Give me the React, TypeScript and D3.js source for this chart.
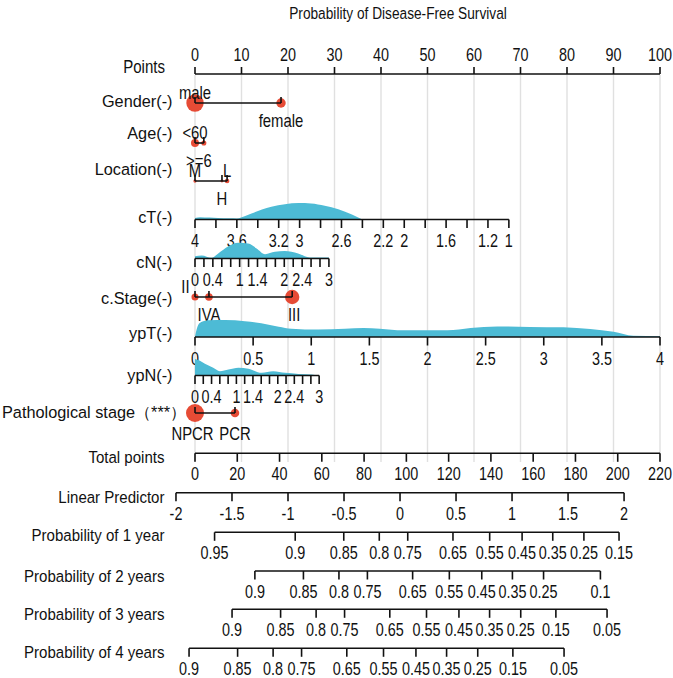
import React from 'react';
import * as d3 from 'd3';

// ---------- data ----------
const pointTicks = [0, 10, 20, 30, 40, 50, 60, 70, 80, 90, 100];

// categorical predictors: levels, points, group size (dot area)
const genderLevels = ['male', 'female'];
const genderPoints = [0, 18.5];
const genderSize = [140, 41];

const ageLevels = ['<60', '>=6'];
const agePoints = [0, 1.9];
const ageSize = [30, 12];

const locationLevels = ['M', 'H', 'L'];
const locationPoints = [0, 5.8, 6.9];
const locationSize = [5, 4, 10];

const stageLevels = ['II', 'IVA', 'III'];
const stagePoints = [0, 3.0, 20.9];
const stageSize = [23, 27, 96];

const pathLevels = ['NPCR', 'PCR'];
const pathPoints = [0, 8.6];
const pathSize = [150, 34];

// continuous predictors: value range, points at the ends, ticks, labels, density
const cTRange = [4, 1];
const cTPoints = [0, 67.5];
const cTTicks = [4, 3.8, 3.6, 3.4, 3.2, 3, 2.8, 2.6, 2.4, 2.2, 2, 1.8, 1.6, 1.4, 1.2, 1];
const cTLabels = [4, 3.6, 3.2, 3, 2.6, 2.2, 2, 1.6, 1.2, 1];
const cTDensity = [
  [4, 0.09], [3.95, 0.13], [3.86, 0.11], [3.78, 0.09], [3.67, 0.07], [3.6, 0.06],
  [3.52, 0.2], [3.46, 0.33], [3.36, 0.56], [3.27, 0.71], [3.14, 0.85], [3.01, 0.91],
  [2.89, 0.89], [2.76, 0.76], [2.63, 0.57], [2.5, 0.28], [2.44, 0.11], [2.4, 0],
];

const cNRange = [0, 3];
const cNPoints = [0, 28.8];
const cNTicks = [0, 0.2, 0.4, 0.6, 0.8, 1, 1.2, 1.4, 1.6, 1.8, 2, 2.2, 2.4, 2.6, 2.8, 3];
const cNLabels = [0, 0.4, 1, 1.4, 2, 2.4, 3];
const cNDensity = [
  [0, 0.13], [0.15, 0.17], [0.37, 0.04], [0.52, 0.28], [0.75, 0.68], [0.97, 0.87],
  [1.19, 0.83], [1.38, 0.56], [1.57, 0.24], [1.79, 0.37], [2.01, 0.41], [2.31, 0.28],
  [2.57, 0.06], [2.8, 0.05], [3, 0.05],
];

const ypTRange = [0, 4];
const ypTPoints = [0, 100];
const ypTTicks = [0, 0.5, 1, 1.5, 2, 2.5, 3, 3.5, 4];
const ypTLabels = ypTTicks;
const ypTDensity = [
  [0, 0.03], [0.015, 0.45], [0.04, 0.78], [0.115, 0.93], [0.26, 0.94], [0.43, 0.88],
  [0.57, 0.76], [0.72, 0.57], [0.83, 0.46], [1.06, 0.41], [1.29, 0.46], [1.45, 0.5],
  [1.59, 0.46], [1.79, 0.37], [2.17, 0.37], [2.37, 0.5], [2.6, 0.59], [2.88, 0.56],
  [3.17, 0.54], [3.4, 0.44], [3.6, 0.29], [3.77, 0.07], [4, 0.04],
];

const ypNRange = [0, 3];
const ypNPoints = [0, 26.7];
const ypNTicks = cNTicks;
const ypNLabels = [0, 0.4, 1, 1.4, 2, 2.4, 3];
const ypNDensity = [
  [0, 0.92], [0.08, 0.86], [0.24, 0.65], [0.44, 0.43], [0.6, 0.24], [0.81, 0.33],
  [1.05, 0.43], [1.29, 0.37], [1.61, 0.15], [1.89, 0.24], [2.18, 0.15], [2.5, 0.09],
  [2.82, 0.06], [2.98, 0],
];

// total points, linear predictor and survival probabilities
const totalTicks = [0, 20, 40, 60, 80, 100, 120, 140, 160, 180, 200, 220];
const lpTicks = [-2, -1.5, -1, -0.5, 0, 0.5, 1, 1.5, 2];
const lpTotalPoints = [-9, 203]; // total points at LP = -2 and LP = 2
const surv1Ticks = [0.95, 0.9, 0.85, 0.8, 0.75, 0.65, 0.55, 0.45, 0.35, 0.25, 0.15];
const surv2Ticks = [0.9, 0.85, 0.8, 0.75, 0.65, 0.55, 0.45, 0.35, 0.25, 0.1];
const surv3Ticks = [0.9, 0.85, 0.8, 0.75, 0.65, 0.55, 0.45, 0.35, 0.25, 0.15, 0.05];
const surv4Ticks = [0.9, 0.85, 0.8, 0.75, 0.65, 0.55, 0.45, 0.35, 0.25, 0.15, 0.05];
const baseSurvival = [0.7645, 0.6805, 0.6238, 0.5002]; // S0 at 1..4 years

// ---------- scales ----------
const W = 673;
const H = 678;
const RED = '#E64B35';
const BLUE = '#4DBBD5';
const INK = '#111';
const LW = 1.6;
const FONT = "'Liberation Sans', Arial, Helvetica, sans-serif";

const xPts = d3.scaleLinear().domain([0, 100]).range([195, 660]);
const xTotal = d3.scaleLinear().domain([0, 220]).range([195, 660]);
const lpToTotal = d3.scaleLinear().domain([-2, 2]).range(lpTotalPoints);
const xLP = (lp: number) => xTotal(lpToTotal(lp));
const survToLP = (p: number, s0: number) => Math.log(Math.log(p) / Math.log(s0));
const rSize = d3.scaleSqrt().domain([0, 150]).range([0, 9]);
const densH = d3.scaleLinear().domain([0, 1]).range([0, 18]);

// condensed text: regular face squeezed horizontally
const NText = ({ x, y, children, size = 18, sx = 0.8, anchor = 'middle' }: any) => (
  <text
    transform={`translate(${x},${y}) scale(${sx},1)`}
    fontSize={size}
    textAnchor={anchor}
    fill={INK}
  >
    {children}
  </text>
);

const VarLabel = ({ y, children }: any) => (
  <text x={172.5} y={y} fontSize={16.3} textAnchor="end" fill={INK}>
    {children}
  </text>
);

const AxisTitle = ({ y, children }: any) => (
  <NText x={164.5} y={y} size={17.3} sx={0.87} anchor="end">
    {children}
  </NText>
);

function CatRow({ y, levels, points, sizes, sides, below = 24, nudge = [] }: any) {
  const xs: number[] = points.map((p: number) => xPts(p));
  return (
    <g>
      {xs.map((x, i) => (
        <circle key={'c' + i} cx={x} cy={y} r={rSize(sizes[i])} fill={RED} />
      ))}
      <line x1={d3.min(xs)} x2={d3.max(xs)} y1={y} y2={y} stroke={INK} strokeWidth={LW} />
      {xs.map((x, i) => (
        <line key={'t' + i} x1={x} x2={x} y1={y - 6} y2={y} stroke={INK} strokeWidth={LW} />
      ))}
      {levels.map((lab: string, i: number) => (
        <NText
          key={'l' + i}
          x={xs[i] + (nudge[i] || 0)}
          y={sides[i] === 'up' ? y - 4.5 : y + below}
          size={17.5}
          sx={0.85}
        >
          {lab}
        </NText>
      ))}
    </g>
  );
}

function ContRow({ y, range, pts, ticks, labels, density }: any) {
  const xv = d3.scaleLinear().domain(range).range(pts.map((p: number) => xPts(p)));
  const sorted = [...density].sort((a: number[], b: number[]) => xv(a[0]) - xv(b[0]));
  const area = d3
    .area<number[]>()
    .x((d) => xv(d[0]))
    .y0(y)
    .y1((d) => y - densH(d[1]))
    .curve(d3.curveMonotoneX);
  const xs = ticks.map((t: number) => xv(t));
  return (
    <g>
      <path d={area(sorted) || ''} fill={BLUE} />
      <line x1={d3.min(xs)} x2={d3.max(xs)} y1={y} y2={y} stroke={INK} strokeWidth={LW} />
      {xs.map((x: number, i: number) => (
        <line key={i} x1={x} x2={x} y1={y} y2={y + 8.5} stroke={INK} strokeWidth={LW} />
      ))}
      {labels.map((v: number, i: number) => (
        <NText key={'l' + i} x={xv(v)} y={y + 27.5}>
          {String(v)}
        </NText>
      ))}
    </g>
  );
}

function BottomAxis({ y, ticks, pos }: any) {
  const xs: number[] = ticks.map((t: number) => pos(t));
  return (
    <g>
      <line x1={d3.min(xs)} x2={d3.max(xs)} y1={y} y2={y} stroke={INK} strokeWidth={LW} />
      {xs.map((x, i) => (
        <g key={i}>
          <line x1={x} x2={x} y1={y} y2={y + 8.5} stroke={INK} strokeWidth={LW} />
          <NText x={x} y={y + 27}>
            {String(ticks[i])}
          </NText>
        </g>
      ))}
    </g>
  );
}

export default function App() {
  return (
    <svg
      width={W}
      height={H}
      viewBox={`0 0 ${W} ${H}`}
      style={{ position: 'absolute', left: 0, top: 0, background: '#fff' }}
      fontFamily={FONT}
    >
      <NText x={398} y={19} size={16.5} sx={0.83}>
        Probability of Disease-Free Survival
      </NText>

      {/* vertical guides every 10 points */}
      {pointTicks.map((v) => (
        <line key={v} x1={xPts(v)} x2={xPts(v)} y1={75} y2={462} stroke="#e0e0e0" strokeWidth={1.4} />
      ))}

      {/* points scale */}
      <NText x={165} y={73} size={17.5} sx={0.86} anchor="end">
        Points
      </NText>
      <line x1={xPts(0)} x2={xPts(100)} y1={74} y2={74} stroke={INK} strokeWidth={LW} />
      {pointTicks.map((v) => (
        <g key={v}>
          <line x1={xPts(v)} x2={xPts(v)} y1={74} y2={67} stroke={INK} strokeWidth={LW} />
          <NText x={xPts(v)} y={61}>
            {String(v)}
          </NText>
        </g>
      ))}

      <VarLabel y={107}>Gender(-)</VarLabel>
      <CatRow y={103} levels={genderLevels} points={genderPoints} sizes={genderSize} sides={['up', 'down']} />

      <VarLabel y={139}>Age(-)</VarLabel>
      <CatRow y={143} levels={ageLevels} points={agePoints} sizes={ageSize} sides={['up', 'down']} nudge={[0, -5]} />

      <VarLabel y={174.5}>Location(-)</VarLabel>
      <CatRow y={181} levels={locationLevels} points={locationPoints} sizes={locationSize} sides={['up', 'down', 'up']} />

      <VarLabel y={223.3}>cT(-)</VarLabel>
      <ContRow y={219.5} range={cTRange} pts={cTPoints} ticks={cTTicks} labels={cTLabels} density={cTDensity} />

      <VarLabel y={268.3}>cN(-)</VarLabel>
      <ContRow y={258.5} range={cNRange} pts={cNPoints} ticks={cNTicks} labels={cNLabels} density={cNDensity} />

      <VarLabel y={304.3}>c.Stage(-)</VarLabel>
      <CatRow y={297} levels={stageLevels} points={stagePoints} sizes={stageSize} sides={['up', 'down', 'down']} nudge={[-9.5, 0, 2]} />

      <VarLabel y={339.3}>ypT(-)</VarLabel>
      <ContRow y={337} range={ypTRange} pts={ypTPoints} ticks={ypTTicks} labels={ypTLabels} density={ypTDensity} />

      <VarLabel y={380.7}>ypN(-)</VarLabel>
      <ContRow y={375.5} range={ypNRange} pts={ypNPoints} ticks={ypNTicks} labels={ypNLabels} density={ypNDensity} />

      <text x={2} y={418.3} fontSize={16.3} fill={INK}>
        Pathological stage（***）
      </text>
      <CatRow y={413} levels={pathLevels} points={pathPoints} sizes={pathSize} sides={['down', 'down']} below={27} nudge={[-2.5, 0]} />

      <AxisTitle y={462.7}>Total points</AxisTitle>
      <BottomAxis y={453.3} ticks={totalTicks} pos={xTotal} />

      <AxisTitle y={502.7}>Linear Predictor</AxisTitle>
      <BottomAxis y={492.7} ticks={lpTicks} pos={xLP} />

      <AxisTitle y={540.7}>Probability of 1 year</AxisTitle>
      <BottomAxis y={532.3} ticks={surv1Ticks} pos={(p: number) => xLP(survToLP(p, baseSurvival[0]))} />

      <AxisTitle y={581.7}>Probability of 2 years</AxisTitle>
      <BottomAxis y={571} ticks={surv2Ticks} pos={(p: number) => xLP(survToLP(p, baseSurvival[1]))} />

      <AxisTitle y={620}>Probability of 3 years</AxisTitle>
      <BottomAxis y={609.3} ticks={surv3Ticks} pos={(p: number) => xLP(survToLP(p, baseSurvival[2]))} />

      <AxisTitle y={658.3}>Probability of 4 years</AxisTitle>
      <BottomAxis y={648.3} ticks={surv4Ticks} pos={(p: number) => xLP(survToLP(p, baseSurvival[3]))} />
    </svg>
  );
}
